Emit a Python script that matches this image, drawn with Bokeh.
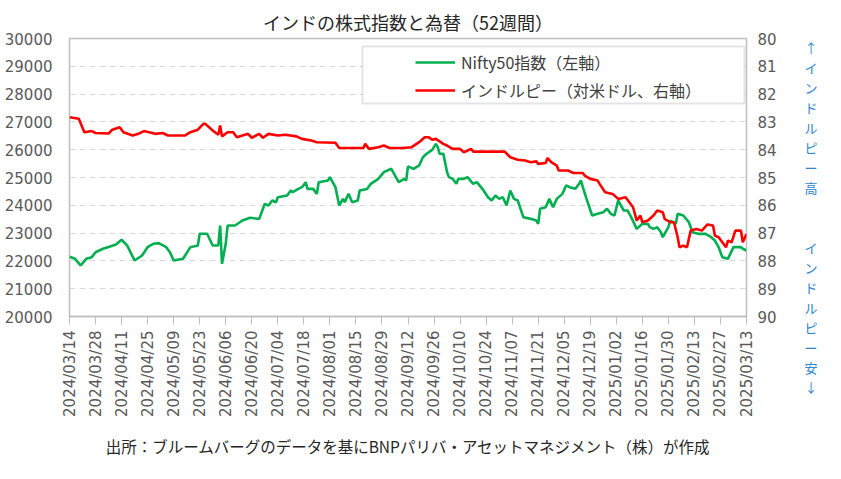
import math
import pandas as pd
from bokeh.plotting import figure
from bokeh.models import (Range1d, LinearAxis, FixedTicker, DatetimeTickFormatter,
                          Legend, LegendItem, BoxAnnotation)
from bokeh.embed import file_html
from bokeh.resources import INLINE

TITLE = "インドの株式指数と為替（52週間）"
SOURCE_NOTE = "出所：ブルームバーグのデータを基にBNPパリバ・アセットマネジメント（株）が作成"
NIFTY_LABEL = "Nifty50指数（左軸）"
INR_LABEL = "インドルピー（対米ドル、右軸）"
RIGHT_NOTE_TOP = "↑インドルピー高"
RIGHT_NOTE_BOTTOM = "インドルピー安↓"

X_TICK_LABELS = ["2024/03/14", "2024/03/28", "2024/04/11", "2024/04/25", "2024/05/09",
                 "2024/05/23", "2024/06/06", "2024/06/20", "2024/07/04", "2024/07/18",
                 "2024/08/01", "2024/08/15", "2024/08/29", "2024/09/12", "2024/09/26",
                 "2024/10/10", "2024/10/24", "2024/11/07", "2024/11/21", "2024/12/05",
                 "2024/12/19", "2025/01/02", "2025/01/16", "2025/01/30", "2025/02/13",
                 "2025/02/27", "2025/03/13"]
LEFT_TICKS = [20000, 21000, 22000, 23000, 24000, 25000, 26000, 27000, 28000, 29000, 30000]
RIGHT_TICKS = [80, 81, 82, 83, 84, 85, 86, 87, 88, 89, 90]

NIFTY_DATES = [
    "2024-03-14", "2024-03-17", "2024-03-20", "2024-03-23", "2024-03-26", "2024-03-28",
    "2024-04-01", "2024-04-04", "2024-04-08", "2024-04-11", "2024-04-14", "2024-04-18",
    "2024-04-22", "2024-04-25", "2024-04-28", "2024-05-01", "2024-05-05", "2024-05-07",
    "2024-05-09", "2024-05-14", "2024-05-18", "2024-05-22", "2024-05-23", "2024-05-27",
    "2024-05-30", "2024-06-02", "2024-06-03", "2024-06-04", "2024-06-06", "2024-06-07",
    "2024-06-11", "2024-06-15", "2024-06-19", "2024-06-24", "2024-06-27", "2024-06-29",
    "2024-07-01", "2024-07-03", "2024-07-04", "2024-07-09", "2024-07-11", "2024-07-12",
    "2024-07-15", "2024-07-17", "2024-07-19", "2024-07-20", "2024-07-23", "2024-07-25",
    "2024-07-26", "2024-07-31", "2024-08-01", "2024-08-03", "2024-08-04", "2024-08-06",
    "2024-08-08", "2024-08-09", "2024-08-11", "2024-08-13", "2024-08-16", "2024-08-17",
    "2024-08-21", "2024-08-23", "2024-08-27", "2024-08-30", "2024-09-03", "2024-09-04",
    "2024-09-07", "2024-09-10", "2024-09-11", "2024-09-12", "2024-09-15", "2024-09-18",
    "2024-09-20", "2024-09-22", "2024-09-25", "2024-09-27", "2024-09-28", "2024-09-29",
    "2024-10-01", "2024-10-03", "2024-10-04", "2024-10-06", "2024-10-08", "2024-10-09",
    "2024-10-12", "2024-10-14", "2024-10-17", "2024-10-19", "2024-10-22", "2024-10-25",
    "2024-10-27", "2024-10-29", "2024-10-31", "2024-11-02", "2024-11-04", "2024-11-06",
    "2024-11-08", "2024-11-10", "2024-11-13", "2024-11-17", "2024-11-20", "2024-11-21",
    "2024-11-22", "2024-11-25", "2024-11-27", "2024-11-29", "2024-12-01", "2024-12-04",
    "2024-12-06", "2024-12-08", "2024-12-11", "2024-12-13", "2024-12-14", "2024-12-15",
    "2024-12-17", "2024-12-20", "2024-12-23", "2024-12-26", "2024-12-28", "2024-12-30",
    "2025-01-01", "2025-01-03", "2025-01-04", "2025-01-06", "2025-01-08", "2025-01-10",
    "2025-01-13", "2025-01-16", "2025-01-19", "2025-01-20", "2025-01-22", "2025-01-24",
    "2025-01-26", "2025-01-27", "2025-01-30", "2025-01-31", "2025-02-03", "2025-02-04",
    "2025-02-07", "2025-02-10", "2025-02-12", "2025-02-15", "2025-02-19", "2025-02-22",
    "2025-02-24", "2025-02-26", "2025-02-28", "2025-03-03", "2025-03-06", "2025-03-10",
    "2025-03-11", "2025-03-13"]
NIFTY_VALUES = [
    22150, 22075, 21835, 22075, 22135, 22313,
    22435, 22500, 22590, 22760, 22555, 22014,
    22194, 22494, 22614, 22640, 22494, 22313,
    22014, 22075, 22494, 22554, 22975, 22975,
    22555, 22555, 23273, 21895, 22614, 23273,
    23273, 23453, 23550, 23510, 24054, 23990,
    24173, 24110, 24292, 24353, 24532, 24470,
    24590, 24652, 24832, 24590, 24590, 24412,
    24832, 24892, 25012, 24770, 24650, 23993,
    24234, 24110, 24412, 24110, 24173, 24532,
    24590, 24772, 24952, 25191, 25313, 25191,
    24832, 24952, 24890, 25400, 25312, 25432,
    25730, 25852, 25995, 26210, 26090, 25852,
    25852, 25191, 25012, 24952, 24772, 24952,
    24952, 25012, 24772, 24832, 24592, 24292,
    24173, 24353, 24232, 24292, 23993, 24532,
    24232, 24173, 23572, 23512, 23452, 23333,
    23873, 23933, 24232, 23933, 24232, 24412,
    24712, 24652, 24592, 24772, 24892, 24652,
    24232, 23633, 23693, 23753, 23873, 23693,
    23633, 24173, 24054, 23813, 23813, 23573,
    23153, 23333, 23333, 23213, 23153, 23213,
    23033, 22852, 23213, 23453, 23333, 23693,
    23633, 23393, 23033, 22973, 22973, 22852,
    22733, 22494, 22135, 22075, 22494, 22494,
    22435, 22374]

INR_DATES = [
    "2024-03-14", "2024-03-19", "2024-03-22", "2024-03-26", "2024-03-28", "2024-04-04",
    "2024-04-06", "2024-04-10", "2024-04-12", "2024-04-17", "2024-04-20", "2024-04-23",
    "2024-04-27", "2024-04-29", "2024-05-03", "2024-05-06", "2024-05-15", "2024-05-18",
    "2024-05-22", "2024-05-25", "2024-05-26", "2024-05-30", "2024-06-02", "2024-06-03",
    "2024-06-04", "2024-06-07", "2024-06-10", "2024-06-12", "2024-06-15", "2024-06-18",
    "2024-06-20", "2024-06-24", "2024-06-26", "2024-06-29", "2024-07-04", "2024-07-08",
    "2024-07-14", "2024-07-17", "2024-07-22", "2024-07-25", "2024-08-04", "2024-08-06",
    "2024-08-19", "2024-08-20", "2024-08-22", "2024-08-27", "2024-08-30", "2024-09-02",
    "2024-09-09", "2024-09-14", "2024-09-18", "2024-09-21", "2024-09-23", "2024-09-25",
    "2024-09-27", "2024-10-01", "2024-10-03", "2024-10-06", "2024-10-10", "2024-10-12",
    "2024-10-16", "2024-10-17", "2024-11-03", "2024-11-06", "2024-11-10", "2024-11-14",
    "2024-11-17", "2024-11-20", "2024-11-21", "2024-11-25", "2024-11-26", "2024-11-28",
    "2024-12-01", "2024-12-02", "2024-12-07", "2024-12-10", "2024-12-15", "2024-12-16",
    "2024-12-19", "2024-12-23", "2024-12-24", "2024-12-27", "2024-12-31", "2025-01-03",
    "2025-01-07", "2025-01-09", "2025-01-11", "2025-01-13", "2025-01-15", "2025-01-16",
    "2025-01-19", "2025-01-22", "2025-01-24", "2025-01-27", "2025-01-28", "2025-01-31",
    "2025-02-02", "2025-02-04", "2025-02-05", "2025-02-07", "2025-02-09", "2025-02-11",
    "2025-02-14", "2025-02-17", "2025-02-20", "2025-02-23", "2025-02-24", "2025-02-26",
    "2025-02-28", "2025-03-02", "2025-03-03", "2025-03-05", "2025-03-07", "2025-03-10",
    "2025-03-11", "2025-03-13"]
INR_VALUES = [
    82.83, 82.89, 83.37, 83.33, 83.40, 83.42,
    83.28, 83.19, 83.37, 83.49, 83.43, 83.33,
    83.39, 83.43, 83.40, 83.49, 83.49, 83.37,
    83.28, 83.07, 83.07, 83.31, 83.46, 83.13,
    83.52, 83.37, 83.37, 83.55, 83.49, 83.43,
    83.57, 83.43, 83.57, 83.43, 83.49, 83.46,
    83.52, 83.61, 83.67, 83.73, 83.75, 83.94,
    83.94, 83.79, 83.97, 83.91, 83.85, 83.94,
    83.94, 83.91, 83.73, 83.55, 83.55, 83.64,
    83.61, 83.79, 83.85, 83.97, 83.97, 84.09,
    83.97, 84.07, 84.07, 84.27, 84.36, 84.39,
    84.45, 84.42, 84.51, 84.48, 84.30, 84.45,
    84.57, 84.75, 84.75, 84.84, 84.84, 84.93,
    85.05, 85.11, 85.23, 85.53, 85.59, 85.77,
    85.71, 85.89, 86.07, 86.55, 86.37, 86.61,
    86.55, 86.37, 86.19, 86.25, 86.49, 86.61,
    86.61, 87.15, 87.51, 87.45, 87.51, 86.91,
    86.85, 86.91, 86.69, 86.73, 87.09, 87.15,
    87.33, 87.51, 87.27, 87.33, 86.91, 86.91,
    87.33, 87.03]

FONT = "Noto Sans CJK JP"
NUM_FONT = "DejaVu Sans"
GREEN = "#00b050"
RED = "#ff0000"
BLUE = "#2f86d2"
GREY_TEXT = "#595959"
FRAME = "#bfbfbf"

EPOCH = pd.Timestamp("1970-01-01")
def to_ms(ts):
    return (ts - EPOCH) / pd.Timedelta(milliseconds=1)

x_ticks_ts = pd.to_datetime(X_TICK_LABELS, format="%Y/%m/%d")
x_ticks_ms = [to_ms(t) for t in x_ticks_ts]

p = figure(width=841, height=479, x_axis_type="datetime",
           x_range=Range1d(x_ticks_ms[0], x_ticks_ms[-1]),
           y_range=Range1d(LEFT_TICKS[0], LEFT_TICKS[-1]),
           output_backend="svg", toolbar_location=None,
           min_border_left=69, min_border_right=95, min_border_top=38, min_border_bottom=163)
p.extra_y_ranges = {"inr": Range1d(RIGHT_TICKS[-1], RIGHT_TICKS[0])}

p.background_fill_color = "white"
p.border_fill_color = "white"
p.outline_line_color = FRAME
p.outline_line_width = 1.5

# title
p.title.text = TITLE
p.title.align = "center"
p.title.text_font = FONT
p.title.text_font_size = "18px"
p.title.text_font_style = "normal"
p.title.text_color = "#262626"
p.title.standoff = 8

# grid
p.xgrid.grid_line_color = None
p.ygrid.grid_line_color = "#d9d9d9"
p.ygrid.grid_line_dash = "6 4"
p.ygrid.grid_line_width = 1.2

# left axis
la = p.yaxis[0]
la.ticker = FixedTicker(ticks=LEFT_TICKS)
la.axis_line_color = None
la.major_tick_line_color = None
la.major_tick_out = 0
la.major_tick_in = 0
la.minor_tick_line_color = None
la.major_label_text_font = NUM_FONT
la.major_label_text_font_size = "15px"
la.major_label_text_color = GREY_TEXT
la.major_label_standoff = 17

# bottom axis (with the source note as its label)
ba = p.xaxis[0]
ba.ticker = FixedTicker(ticks=x_ticks_ms)
ba.formatter = DatetimeTickFormatter(days="%Y/%m/%d", months="%Y/%m/%d", years="%Y/%m/%d",
                                     hours="%Y/%m/%d", minutes="%Y/%m/%d")
ba.major_label_orientation = math.pi / 2
ba.axis_line_color = FRAME
ba.axis_line_width = 1.5
ba.major_tick_line_color = FRAME
ba.major_tick_out = 8
ba.major_tick_in = 0
ba.minor_tick_line_color = None
ba.major_label_text_font = NUM_FONT
ba.major_label_text_font_size = "15px"
ba.major_label_text_color = GREY_TEXT
ba.major_label_standoff = 6
ba.axis_label = SOURCE_NOTE
ba.axis_label_text_font = FONT
ba.axis_label_text_font_size = "15.5px"
ba.axis_label_text_font_style = "normal"
ba.axis_label_text_color = "#262626"
ba.axis_label_standoff = 15

# right axis (with the stacked vertical note as its label)
ra = LinearAxis(y_range_name="inr", ticker=FixedTicker(ticks=RIGHT_TICKS))
ra.axis_line_color = None
ra.major_tick_line_color = None
ra.major_tick_out = 0
ra.major_tick_in = 0
ra.minor_tick_line_color = None
ra.major_label_text_font = NUM_FONT
ra.major_label_text_font_size = "15px"
ra.major_label_text_color = GREY_TEXT
ra.major_label_standoff = 11
note_lines = [""] * 4 + list(RIGHT_NOTE_TOP) + [""] * 2 + list(RIGHT_NOTE_BOTTOM)
ra.axis_label = "\n".join(note_lines)
ra.axis_label_orientation = "horizontal"
ra.axis_label_text_font = FONT
ra.axis_label_text_font_size = "13px"
ra.axis_label_text_font_style = "normal"
ra.axis_label_text_color = BLUE
ra.axis_label_text_line_height = 1.05
ra.axis_label_standoff = 25
p.add_layout(ra, "right")

nifty_x = pd.to_datetime(NIFTY_DATES)
inr_x = pd.to_datetime(INR_DATES)
r1 = p.line(nifty_x, NIFTY_VALUES, line_color=GREEN, line_width=2.6)
r2 = p.line(inr_x, INR_VALUES, line_color=RED, line_width=2.6, y_range_name="inr")

# legend frame
box = BoxAnnotation(left=293, right=675, bottom=213, top=270,
                    left_units="screen", right_units="screen",
                    bottom_units="screen", top_units="screen",
                    fill_color="white", fill_alpha=1.0,
                    line_color="#a6a6a6", line_width=2)
p.add_layout(box)

legend = Legend(items=[LegendItem(label=NIFTY_LABEL, renderers=[r1]),
                       LegendItem(label=INR_LABEL, renderers=[r2])],
                location=(346, 214), orientation="vertical",
                border_line_color=None, background_fill_alpha=0,
                padding=0, margin=0, spacing=4, label_height=24, glyph_height=24,
                glyph_width=40, label_standoff=6,
                label_text_font=FONT, label_text_font_size="16px",
                label_text_color="#404040")
p.add_layout(legend)

open("out.html", "w").write(file_html(p, INLINE))
